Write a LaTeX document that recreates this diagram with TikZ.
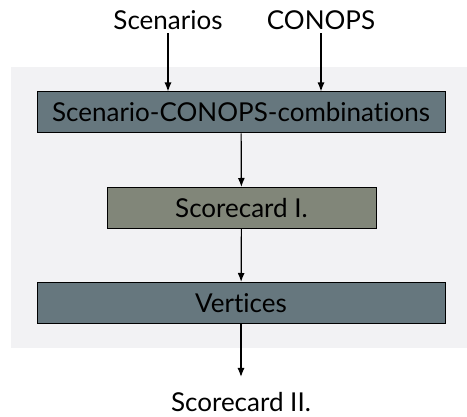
\documentclass[tikz,border=0pt]{standalone}
\usepackage{fontspec}
\setmainfont[Ligatures=NoCommon]{Lato}
\usetikzlibrary{arrows,arrows.meta}
\definecolor{slate}{HTML}{66777E}
\definecolor{olive}{HTML}{818679}
\definecolor{panel}{HTML}{F2F2F4}
\tikzset{
  stage/.style={draw=black,line width=1pt,minimum height=41pt,inner sep=0pt,font=\fontsize{26}{30}\selectfont},
  label/.style={font=\fontsize{26}{30}\selectfont},
  flow/.style={-{Latex[length=9pt,width=7pt]},line width=1.2pt}
}

\begin{document}
\begin{tikzpicture}[x=1pt,y=1pt]
        \useasboundingbox (0,0) rectangle (467,417);
        \fill[panel] (11,69) rectangle (467,350);

        \node[stage,fill=slate,minimum width=408pt] (combos) at (241,304.5) {Scenario-CONOPS-combinations};
        \node[stage,fill=olive,minimum width=269pt] (score) at (241.5,209) {Scorecard I.};
        \node[stage,fill=slate,minimum width=408pt] (vert) at (241,114) {Vertices};

        \node[label] (scen) at (168,397) {Scenarios};
        \node[label] (conops) at (321,397) {CONOPS};
        \node[label] (score2) at (241,15) {Scorecard II.};
        \coordinate (out) at (241,40);

        \draw[flow] (scen) -- (scen|-combos.north);
        \draw[flow] (conops) -- (conops|-combos.north);
        \draw[flow] (combos) -- (score);
        \draw[flow] (score) -- (vert);
        \draw[flow] (vert) -- (out);
      \end{tikzpicture}
\end{document}
